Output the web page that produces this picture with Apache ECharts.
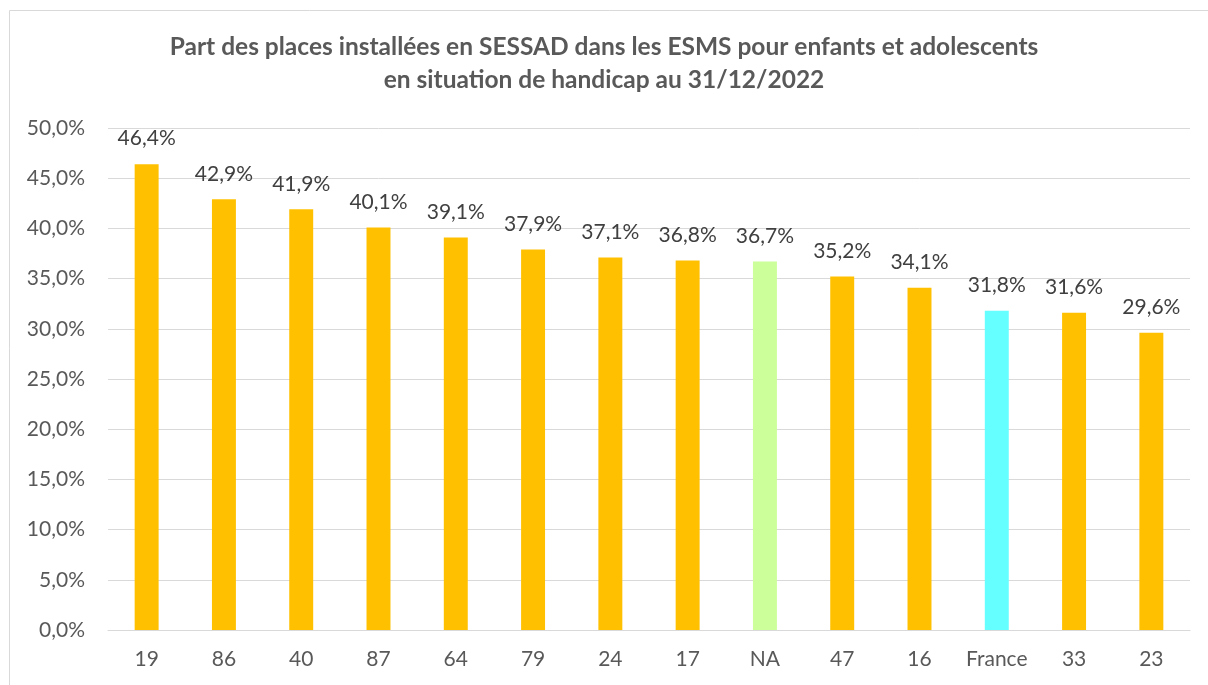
<!DOCTYPE html>
<html>
<head>
<meta charset="utf-8">
<script src="https://cdn.jsdelivr.net/npm/echarts@6/dist/echarts.min.js"></script>
<style>
  html, body { margin: 0; padding: 0; background: #fff; }
  #chart { width: 1208px; height: 685px; }
</style>
</head>
<body>
<div id="chart"></div>
<script>
const categories = ['19', '86', '40', '87', '64', '79', '24', '17', 'NA', '47', '16', 'France', '33', '23']
const values = [46.4, 42.9, 41.9, 40.1, 39.1, 37.9, 37.1, 36.8, 36.7, 35.2, 34.1, 31.8, 31.6, 29.6]
const barColors = {
  NA: '#ccff99',
  France: '#66ffff'
}
const defaultColor = '#ffc000'

const fmt = v => v.toFixed(1).replace('.', ',') + '%'

const chart = echarts.init(document.getElementById('chart'))
chart.setOption({
  animation: false,
  textStyle: { fontFamily: 'Lato, sans-serif' },
  title: {
    text: 'Part des places installées en SESSAD dans les ESMS pour enfants et adolescents\nen situation de handicap au 31/12/2022',
    left: 'center',
    top: 26,
    textStyle: {
      color: '#595959',
      fontSize: 24.5,
      fontWeight: 'bold',
      lineHeight: 33
    }
  },
  graphic: [{
    type: 'rect',
    shape: { x: 9.5, y: 10.5, width: 1300, height: 800 },
    style: { fill: 'none', stroke: '#d9d9d9', lineWidth: 1 },
    silent: true
  }],
  grid: {
    left: 108,
    right: 18,
    top: 128,
    bottom: 55
  },
  xAxis: {
    type: 'category',
    data: categories,
    axisTick: { show: false },
    axisLine: { lineStyle: { color: '#d9d9d9', width: 1 } },
    axisLabel: { color: '#595959', fontSize: 21, margin: 19, interval: 0 }
  },
  yAxis: {
    type: 'value',
    min: 0,
    max: 50,
    interval: 5,
    axisLine: { show: false },
    axisTick: { show: false },
    splitLine: { lineStyle: { color: '#d9d9d9', width: 1 } },
    axisLabel: {
      color: '#595959',
      fontSize: 21,
      margin: 23,
      formatter: v => fmt(v)
    }
  },
  series: [{
    type: 'bar',
    barWidth: '31%',
    data: values.map((v, i) => ({
      value: v,
      itemStyle: { color: barColors[categories[i]] || defaultColor }
    })),
    label: {
      show: true,
      position: 'top',
      distance: 15,
      color: '#404040',
      fontSize: 21,
      formatter: p => fmt(p.value)
    }
  }]
})
</script>
</body>
</html>
